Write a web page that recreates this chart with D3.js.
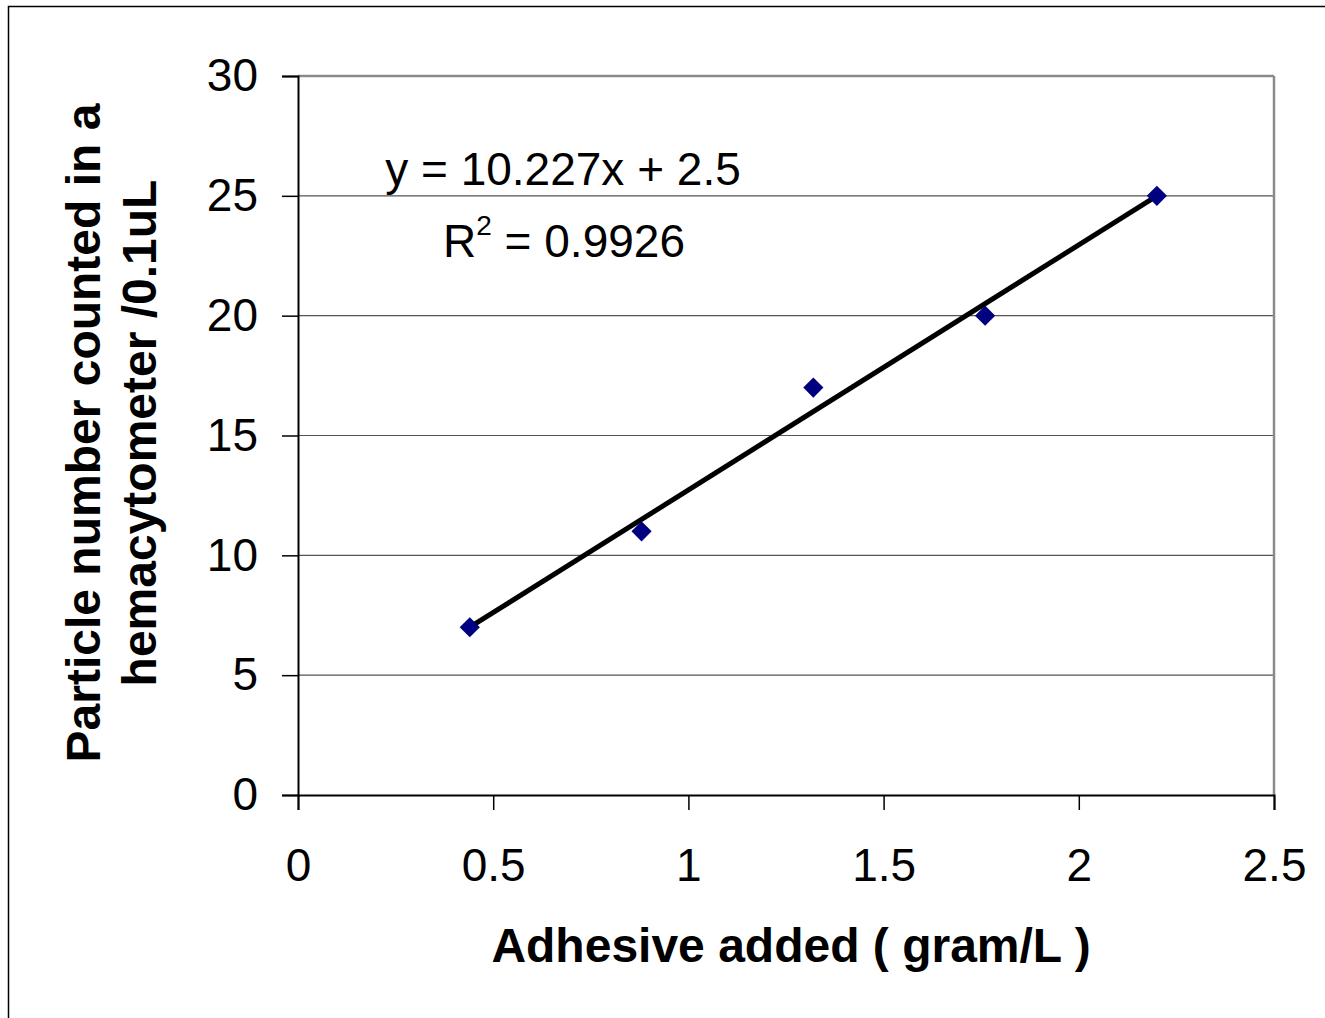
<!DOCTYPE html>
<html>
<head>
<meta charset="utf-8">
<script src="https://cdn.jsdelivr.net/npm/d3@7"></script>
<style>
  body { margin: 0; background: #fff; }
  svg { font-family: "Liberation Sans", Arial, sans-serif; }
</style>
</head>
<body>
<svg id="chart" width="1325" height="1018"></svg>
<script>
// data
const adhesive = [0.44, 0.88, 1.32, 1.76, 2.2]
const particles = [7, 11, 17, 20, 25]
const xTicks = [0, 0.5, 1, 1.5, 2, 2.5]
const yTicks = [0, 5, 10, 15, 20, 25, 30]
const slope = 10.227
const intercept = 2.5

const svg = d3.select("#chart")

const plot = { left: 298, right: 1274, top: 76, bottom: 795 }

const x = d3.scaleLinear().domain([0, 2.5]).range([plot.left, plot.right])
const y = d3.scaleLinear().domain([0, 30]).range([plot.bottom, plot.top])

// outer frame
svg.append("rect")
    .attr("x", 8.5).attr("y", 6.5)
    .attr("width", 1330).attr("height", 1030)
    .attr("fill", "none")
    .attr("stroke", "black")
    .attr("stroke-width", 1.5)

// gridlines
svg.append("g")
    .selectAll("line")
    .data(yTicks.filter(d => d > 0))
    .join("line")
    .attr("x1", plot.left).attr("x2", plot.right)
    .attr("y1", d => y(d)).attr("y2", d => y(d))
    .attr("stroke", d => d === 30 ? "#8a8a8a" : "#555")
    .attr("stroke-width", d => d === 30 ? 2.5 : 1.2)

// right border of plot area
svg.append("line")
    .attr("x1", plot.right).attr("x2", plot.right)
    .attr("y1", plot.top).attr("y2", plot.bottom)
    .attr("stroke", "#8a8a8a")
    .attr("stroke-width", 2.5)

// axes
const xAxis = d3.axisBottom(x).tickValues(xTicks).tickSize(15).tickPadding(38)
    .tickFormat(d3.format(""))
const yAxis = d3.axisLeft(y).tickValues(yTicks).tickSize(16).tickPadding(24)

const gx = svg.append("g")
    .attr("transform", `translate(0,${plot.bottom})`)
    .call(xAxis)
const gy = svg.append("g")
    .attr("transform", `translate(${plot.left},0)`)
    .call(yAxis)

for (const g of [gx, gy]) {
    g.select(".domain").attr("stroke", "black").attr("stroke-width", 2)
    g.selectAll(".tick line").attr("stroke", "black").attr("stroke-width", 1.5)
    g.selectAll(".tick text")
        .attr("fill", "black")
        .style("font-size", "46px")
        .style("font-family", "'Liberation Sans', Arial, sans-serif")
}
gx.selectAll(".tick text").attr("dy", "0.71em")

// trend line
svg.append("line")
    .attr("x1", x(adhesive[0])).attr("y1", y(slope * adhesive[0] + intercept))
    .attr("x2", x(adhesive[adhesive.length - 1]))
    .attr("y2", y(slope * adhesive[adhesive.length - 1] + intercept))
    .attr("stroke", "black")
    .attr("stroke-width", 5)

// markers
svg.append("g")
    .selectAll("path")
    .data(adhesive.map((d, i) => [d, particles[i]]))
    .join("path")
    .attr("d", d3.symbol().type(d3.symbolDiamond2).size(260))
    .attr("transform", d => `translate(${x(d[0])},${y(d[1])})`)
    .attr("fill", "#000080")

// equation label
svg.append("text")
    .attr("x", 563).attr("y", 185)
    .attr("text-anchor", "middle")
    .style("font-size", "46px")
    .text("y = 10.227x + 2.5")

const r2 = svg.append("text")
    .attr("x", 564).attr("y", 257)
    .attr("text-anchor", "middle")
    .style("font-size", "46px")
r2.append("tspan").text("R")
r2.append("tspan").attr("dy", -22).style("font-size", "28px").text("2")
r2.append("tspan").attr("dy", 22).text(" = 0.9926")

// axis titles
svg.append("text")
    .attr("x", 791).attr("y", 962)
    .attr("text-anchor", "middle")
    .style("font-size", "48px")
    .style("font-weight", "bold")
    .text("Adhesive added ( gram/L )")

const yTitle = svg.append("text")
    .attr("transform", "translate(0,433) rotate(-90)")
    .attr("text-anchor", "middle")
    .style("font-size", "48px")
    .style("font-weight", "bold")
yTitle.append("tspan").attr("x", 0).attr("y", 100).text("Particle number counted in a")
yTitle.append("tspan").attr("x", 0).attr("y", 156).text("hemacytometer /0.1uL")
</script>
</body>
</html>
